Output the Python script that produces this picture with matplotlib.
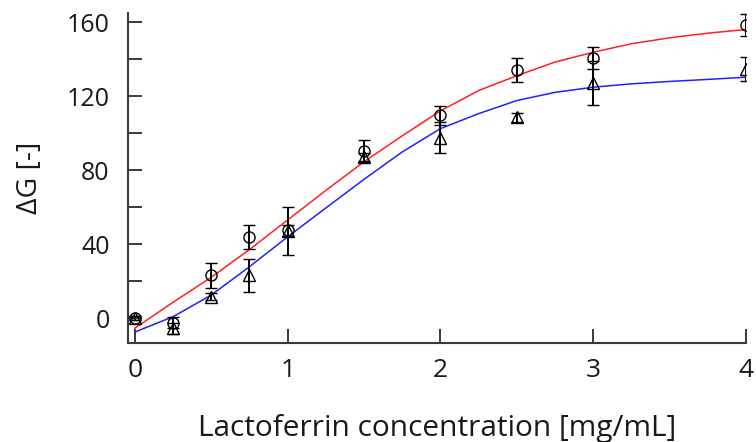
import numpy as np
import matplotlib.pyplot as plt
from matplotlib.ticker import MultipleLocator

# Measured points (circles / triangles) with error bars
conc = [0, 0.25, 0.5, 0.75, 1, 1.5, 2, 2.5, 3, 4]
dg_circle = [0, -2.5, 23, 44, 47.5, 90.5, 109.5, 134, 140.5, 158.5]
err_circle = [1, 3, 6.5, 6.5, 3, 6, 5, 6.5, 6, 6]
dg_triangle = [0, -5.5, 11.5, 23, 47, 87, 97.5, 108.5, 127, 134.5]
err_triangle = [1, 3, 2, 9, 13, 2, 8.5, 2.5, 12, 6.5]

# Fitted curves
fit_x = [0, 0.25, 0.5, 0.75, 1, 1.25, 1.5, 1.75, 2, 2.25, 2.5, 2.75, 3, 3.25, 3.5, 3.75, 4]
fit_red = [-5.5, 8.5, 22, 37, 53, 69, 84.5, 98.5, 112, 123, 131, 138.4, 143.7, 148.3, 151.5, 154, 156]
fit_blue = [-7.6, 0.7, 12.4, 27.7, 43.9, 59.5, 75, 89.8, 102.4, 110.5, 117.6, 122, 124.8, 126.6, 127.9, 129, 130.2]

plt.rcParams['font.family'] = ['Open Sans', 'DejaVu Sans']

fig = plt.figure(figsize=(7.56, 4.42), dpi=100)
ax = fig.add_axes([0.169, 0.224, 0.818, 0.747])

ax.plot(fit_x, fit_red, color='#ff2020', lw=1.1, zorder=2)
ax.plot(fit_x, fit_blue, color='#2020ff', lw=1.1, zorder=2)

# error bars drawn in black, open markers
ax.errorbar(conc, dg_circle, yerr=err_circle, fmt='o', ms=8, mfc='none', mec='black',
            mew=1.0, ecolor='black', elinewidth=1.4, capsize=4, capthick=1.4, zorder=3)
ax.errorbar(conc, dg_triangle, yerr=err_triangle, fmt='^', ms=8, mfc='none', mec='black',
            mew=1.0, ecolor='black', elinewidth=1.4, capsize=4, capthick=1.4, zorder=3)

ax.set_xlim(-0.046, 4.0)
ax.set_ylim(-13.5, 165)
ax.set_xticks([0, 1, 2, 3, 4])
ax.yaxis.set_major_locator(MultipleLocator(40))
ax.yaxis.set_minor_locator(MultipleLocator(20))

for side in ['top', 'right']:
    ax.spines[side].set_visible(False)
for side in ['left', 'bottom']:
    ax.spines[side].set_color('#3a3a3a')
    ax.spines[side].set_linewidth(1.5)

ax.tick_params(axis='both', which='both', direction='in', length=10, width=1.4,
               color='#3a3a3a', labelcolor='#1a1a1a')
ax.tick_params(axis='y', pad=13, labelsize=18)
ax.tick_params(axis='x', pad=11, labelsize=19)

ax.set_xlabel('Lactoferrin concentration [mg/mL]', fontsize=21.5, color='#1a1a1a', labelpad=22)
ax.set_ylabel('ΔG [-]', fontsize=20.5, color='#1a1a1a', labelpad=16)

fig.savefig('out.png', dpi=100)
